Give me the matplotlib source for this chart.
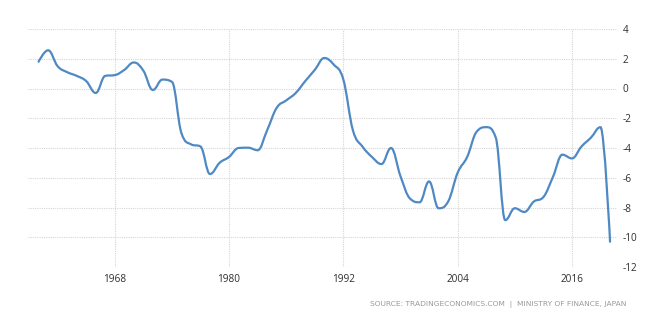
import matplotlib
matplotlib.use("Agg")
import matplotlib.pyplot as plt
from matplotlib.path import Path
from matplotlib.patches import PathPatch
import numpy as np

years = list(range(1960, 2021))
values = [
    1.8, 2.57, 1.5, 1.1, 0.85, 0.5, -0.3, 0.85, 0.9, 1.25,
    1.75, 1.2, -0.1, 0.6, 0.45, -3.0, -3.75, -3.9, -5.75, -5.0,
    -4.6, -4.0, -3.98, -4.15, -2.8, -1.3, -0.8, -0.3, 0.5, 1.25,
    2.05, 1.6, 0.6, -2.8, -3.9, -4.6, -5.08, -4.0, -5.9, -7.4,
    -7.65, -6.25, -8.05, -7.6, -5.66, -4.6, -2.9, -2.6, -3.3, -8.85,
    -8.05, -8.3, -7.6, -7.3, -5.95, -4.45, -4.7, -3.9, -3.3, -2.6,
    -10.3,
]
x_ticks = [1968, 1980, 1992, 2004, 2016]
y_ticks = [4, 2, 0, -2, -4, -6, -8, -10, -12]
source_text = "SOURCE: TRADINGECONOMICS.COM  |  MINISTRY OF FINANCE, JAPAN"


def spline_path(xs, ys, smoothing=1.5):
    """Highcharts-style spline: cubic Bezier segments through each point."""
    xs = np.asarray(xs, float)
    ys = np.asarray(ys, float)
    n = len(xs)
    denom = smoothing + 1
    left = [None] * n
    right = [None] * n
    for i in range(n):
        if i == 0 or i == n - 1:
            left[i] = (xs[i], ys[i])
            right[i] = (xs[i], ys[i])
            continue
        lx, ly = xs[i - 1], ys[i - 1]
        px, py = xs[i], ys[i]
        nx, ny = xs[i + 1], ys[i + 1]
        lcx = (smoothing * px + lx) / denom
        lcy = (smoothing * py + ly) / denom
        rcx = (smoothing * px + nx) / denom
        rcy = (smoothing * py + ny) / denom
        corr = 0.0
        if rcx != lcx:
            corr = ((rcy - lcy) * (rcx - px)) / (rcx - lcx) + py - rcy
        lcy += corr
        rcy += corr
        if lcy > ly and lcy > py:
            lcy = max(ly, py)
            rcy = 2 * py - lcy
        elif lcy < ly and lcy < py:
            lcy = min(ly, py)
            rcy = 2 * py - lcy
        if rcy > ny and rcy > py:
            rcy = max(ny, py)
            lcy = 2 * py - rcy
        elif rcy < ny and rcy < py:
            rcy = min(ny, py)
            lcy = 2 * py - rcy
        left[i] = (lcx, lcy)
        right[i] = (rcx, rcy)
    verts = [(xs[0], ys[0])]
    codes = [Path.MOVETO]
    for i in range(1, n):
        verts += [right[i - 1], left[i], (xs[i], ys[i])]
        codes += [Path.CURVE4] * 3
    return Path(verts, codes)


fig = plt.figure(figsize=(6.6, 3.27), dpi=100)
W, H = 660, 327
ax_left, ax_right, ax_top, ax_bottom = 28, 617, 29, 267
ax = fig.add_axes([ax_left / W, 1 - ax_bottom / H,
                   (ax_right - ax_left) / W, (ax_bottom - ax_top) / H])

ax.set_xlim(1958.89, 2020.73)
ax.set_ylim(-12, 4)

path = spline_path(years, values)
ax.add_patch(PathPatch(path, facecolor="none", edgecolor="#4f89c4",
                       linewidth=1.6, capstyle="round", joinstyle="round",
                       zorder=3))

for y in y_ticks:
    ax.axhline(y, color="#d6d6d6", linewidth=0.8, linestyle=(0, (1, 1)), zorder=1)
for x in x_ticks:
    ax.axvline(x, color="#d6d6d6", linewidth=0.8, linestyle=(0, (1, 1)), zorder=1)

for s in ax.spines.values():
    s.set_visible(False)

ax.set_xticks(x_ticks)
ax.set_xticklabels([str(x) for x in x_ticks])
ax.set_yticks(y_ticks)
ax.set_yticklabels([str(y) for y in y_ticks])
ax.yaxis.tick_right()
ax.tick_params(axis="both", length=0, labelsize=7.2, labelcolor="#2e2e2e")
ax.tick_params(axis="y", pad=4)
ax.tick_params(axis="x", pad=5)
for lab in ax.get_xticklabels() + ax.get_yticklabels():
    lab.set_fontfamily("Open Sans")
for lab in ax.get_yticklabels():
    lab.set_horizontalalignment("left")

fig.text(626 / W, 1 - 304 / H, source_text, ha="right", va="center",
         fontsize=5.4, color="#9a9a9a", family="DejaVu Sans")

fig.savefig("out.png", dpi=100, facecolor="white")
